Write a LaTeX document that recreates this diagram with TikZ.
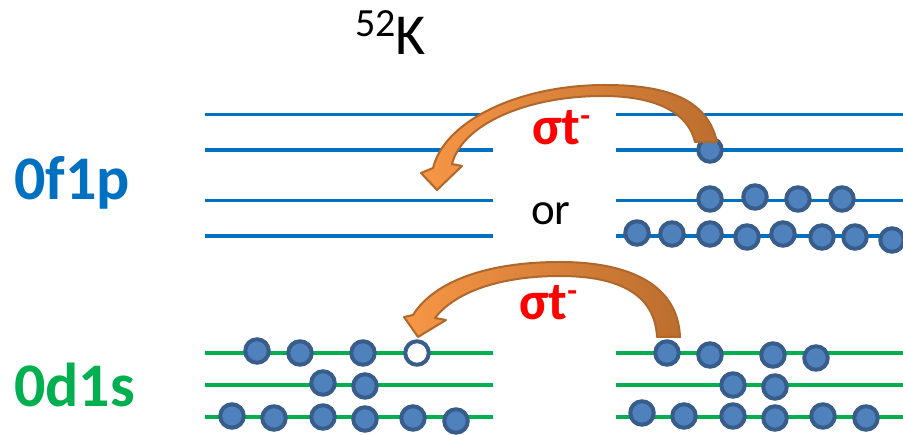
\documentclass[tikz,border=0pt]{standalone}
\usepackage{fontspec}
\setmainfont{Carlito}
\definecolor{pblue}{HTML}{0070C0}
\definecolor{dgreen}{HTML}{00B050}
\definecolor{efill}{HTML}{4F81BD}
\definecolor{eborder}{HTML}{385D8A}
\definecolor{arrdark}{HTML}{BC6E2E}
\definecolor{arrlight}{HTML}{F79646}
\definecolor{arrline}{HTML}{B0672C}
\begin{document}
\begin{tikzpicture}[x=1pt,y=-1pt,
  blevel/.style={draw=pblue,line width=3.5pt},
  glevel/.style={draw=dgreen,line width=3.5pt},
  elec/.style={circle,draw=eborder,fill=efill,line width=4pt,minimum size=23.5pt,inner sep=0pt},
  hole/.style={elec,fill=white},
  bigarrow/.style={draw=arrline,line width=2pt,line join=round,left color=arrlight,right color=arrdark},
  orblabel/.style={anchor=base west,inner sep=0pt,font=\fontsize{62}{62}\selectfont\bfseries},
  sigmalabel/.style={anchor=base west,inner sep=0pt,text=red,font=\fontsize{54}{54}\selectfont\bfseries}
]
\useasboundingbox (0,0) rectangle (903,435);
\fill[white] (0,0) rectangle (903,435);

% title
\node[anchor=base west,inner sep=0pt,font=\fontsize{58}{58}\selectfont] (title) at (355,55)
  {{\fontsize{40}{40}\selectfont\raisebox{18pt}{52}}K};

% labels
\node[orblabel,text=pblue] (fp) at (14,200) {0f1p};
\node[orblabel,text=dgreen] (ds) at (14,407) {0d1s};
\node[anchor=base west,inner sep=0pt,font=\fontsize{45}{45}\selectfont] (or) at (531,225) {or};

% blue levels
\foreach \y in {114.5,150,200.5,236} {
  \draw[blevel] (205,\y) -- (493,\y);
  \draw[blevel] (616,\y) -- (905,\y);
}
% green levels
\foreach \y in {353,385,417} {
  \draw[glevel] (205,\y) -- (493,\y);
  \draw[glevel] (616,\y) -- (905,\y);
}

% electrons, 0f1p right
\node[elec] (f1) at (710,150) {};
\foreach \x/\y [count=\i] in {710/199,755/197,798/199,842/199}
  \node[elec] (fa\i) at (\x,\y) {};
\foreach \x/\y [count=\i] in {637/233,672/234,710/234,747/237,783/234,822/237,855/237,892/240}
  \node[elec] (fb\i) at (\x,\y) {};

% electrons, 0d1s left
\foreach \x/\y [count=\i] in {257/351,300/353,363/353}
  \node[elec] (la\i) at (\x,\y) {};
\node[hole] (h) at (417,353) {};
\foreach \x/\y [count=\i] in {323/383,365/386}
  \node[elec] (lb\i) at (\x,\y) {};
\foreach \x/\y [count=\i] in {232/416,274/418,323/417,365/419,413/418,456/421}
  \node[elec] (lc\i) at (\x,\y) {};

% electrons, 0d1s right
\foreach \x/\y [count=\i] in {667/353,710/355,773/355,816/358}
  \node[elec] (ra\i) at (\x,\y) {};
\foreach \x/\y [count=\i] in {733/385,775/387}
  \node[elec] (rb\i) at (\x,\y) {};
\foreach \x/\y [count=\i] in {642/413,684/416,733/416,775/418,823/416,866/418}
  \node[elec] (rc\i) at (\x,\y) {};

% curved arrows
\path[bigarrow] (717,142) .. controls (707,98) and (665,85) .. (605,85)
  .. controls (520,85) and (445,120) .. (433,168)
  -- (421,173) -- (437,190) -- (462,166) -- (452,164)
  .. controls (462,125) and (525,96) .. (603,96)
  .. controls (655,96) and (688,112) .. (695,142) -- cycle;
\path[bigarrow] (680,337) .. controls (678,285) and (630,262) .. (560,262)
  .. controls (490,262) and (435,280) .. (413,315)
  -- (404,317) -- (418,337) -- (446,320) -- (435,318)
  .. controls (455,292) and (500,276) .. (560,276)
  .. controls (620,276) and (655,295) .. (657,337) -- cycle;

% sigma tau labels
\node[sigmalabel] (s1) at (532,145) {σt{\fontsize{32}{32}\selectfont\raisebox{18pt}{-}}};
\node[sigmalabel] (s2) at (519,320) {σt{\fontsize{32}{32}\selectfont\raisebox{18pt}{-}}};
\end{tikzpicture}
\end{document}
